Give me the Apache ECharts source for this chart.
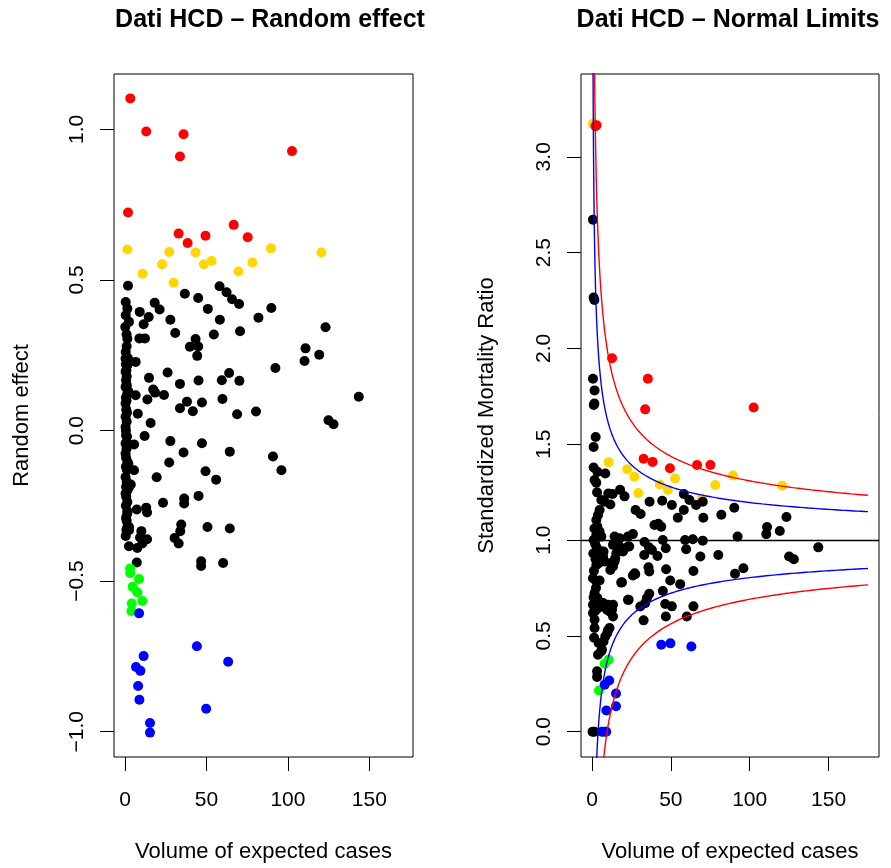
<!DOCTYPE html>
<html>
<head>
<meta charset="utf-8">
<title>Dati HCD</title>
<script src="https://cdn.jsdelivr.net/npm/echarts@6/dist/echarts.min.js"></script>
<style>
  html, body { margin: 0; padding: 0; background: #fff; }
  #chart { width: 891px; height: 868px; }
</style>
</head>
<body>
<div id="chart"></div>
<script>
// ---- Random effect panel: [expected cases, random effect] ----
const reBlack = [
  [1.8,0.481],[18.2,0.424],[21.2,0.402],[36.7,0.454],[44.9,0.440],[58.0,0.479],[62.3,0.459],[65.7,0.436],
  [70.0,0.420],[50.8,0.404],[89.8,0.407],[81.9,0.375],[58.2,0.368],[27.8,0.368],[9.0,0.394],[14.5,0.377],
  [11.4,0.353],[30.8,0.324],[54.5,0.319],[70.6,0.330],[123.1,0.343],[43.3,0.304],[39.8,0.278],[44.9,0.279],
  [44.3,0.248],[8.8,0.306],[12.2,0.306],[110.8,0.273],[119.2,0.252],[110.2,0.231],[92.3,0.208],[26.1,0.193],
  [14.7,0.175],[63.9,0.191],[59.4,0.167],[70.2,0.165],[45.1,0.166],[33.7,0.155],[17.3,0.136],[18.4,0.126],
  [23.9,0.118],[13.7,0.103],[59.8,0.105],[38.0,0.096],[47.2,0.093],[33.7,0.074],[41.6,0.064],[143.5,0.112],
  [80.4,0.063],[68.8,0.054],[124.9,0.034],[128.0,0.021],[7.8,0.056],[15.7,0.025],[12.0,-0.018],[27.8,-0.035],
  [47.2,-0.042],[5.5,-0.046],[35.9,-0.073],[64.3,-0.070],[90.8,-0.086],[96.0,-0.132],[27.1,-0.106],[49.4,-0.135],
  [55.9,-0.163],[19.4,-0.155],[5.5,-0.132],[3.5,-0.179],[23.3,-0.240],[36.3,-0.226],[36.3,-0.242],[45.1,-0.217],
  [13.0,-0.256],[13.5,-0.272],[7.2,-0.262],[1.4,-0.268],[34.5,-0.312],[33.9,-0.334],[30.4,-0.357],[32.9,-0.375],
  [50.6,-0.320],[64.3,-0.325],[2.4,-0.320],[2.4,-0.331],[10.0,-0.334],[13.5,-0.361],[9.2,-0.355],[10.6,-0.375],
  [2.4,-0.384],[7.5,-0.390],[7.2,-0.438],[46.7,-0.434],[46.7,-0.450],[60.2,-0.440],
  [0.4,0.427],[1.4,0.405],[0.4,0.383],[2.4,0.361],[0.1,0.344],[1.4,0.305],[1.0,0.280],[0.9,0.320],
  [0.4,0.261],[0.3,0.239],[1.8,0.240],[1.4,0.217],[0.5,0.220],[0.8,0.200],[0.3,0.195],[1.0,0.180],
  [0.6,0.167],[1.1,0.150],[0.3,0.145],[2.0,0.130],[1.4,0.123],[0.5,0.110],[0.9,0.100],[0.3,0.090],
  [0.7,0.070],[1.2,0.060],[0.3,0.046],[1.0,0.030],[0.3,0.012],[0.5,0.000],[0.6,-0.016],[1.2,-0.020],
  [0.3,-0.043],[0.8,-0.040],[0.9,-0.060],[0.3,-0.076],[0.6,-0.090],[1.4,-0.104],[2.0,-0.110],[0.5,-0.120],
  [1.1,-0.130],[0.3,-0.154],[1.0,-0.170],[0.6,-0.187],[2.2,-0.190],[1.3,-0.200],[0.3,-0.209],[0.7,-0.220],
  [1.4,-0.237],[0.5,-0.250],[1.4,-0.275],[0.6,-0.290],[1.0,-0.300],[1.4,-0.320],[0.8,-0.330],[0.4,-0.350],
  [6.5,0.228],[6.5,0.117]
];
const reGold = [
  [1.4,0.601],[10.8,0.521],[22.7,0.552],[27.1,0.593],[29.8,0.491],[43.3,0.591],
  [48.4,0.552],[53.1,0.563],[69.6,0.528],[78.2,0.558],[89.6,0.605],[120.6,0.591]
];
const reRed = [
  [3.2,1.103],[13.0,0.993],[35.9,0.984],[33.7,0.910],[102.5,0.928],[1.8,0.724],
  [66.7,0.683],[32.9,0.654],[38.4,0.623],[49.4,0.647],[75.3,0.642]
];
const reGreen = [
  [3.1,-0.458],[3.1,-0.473],[8.6,-0.493],[4.7,-0.519],[7.5,-0.537],[10.6,-0.566],[4.1,-0.574],[3.9,-0.599]
];
const reBlue = [
  [8.6,-0.607],[44.1,-0.716],[11.4,-0.749],[63.3,-0.768],[6.7,-0.785],[9.4,-0.798],
  [8.0,-0.848],[8.8,-0.894],[49.8,-0.924],[15.3,-0.971],[15.3,-1.003]
];

// ---- Normal limits panel: [expected cases, SMR] ----
const smrBlack = [
  [0.6,2.672],[1.0,2.266],[1.5,2.253],[0.6,1.842],[1.6,1.781],[1.5,1.712],[1.1,1.705],[2.3,1.538],
  [1.0,1.486],[1.0,1.379],[3.4,1.356],[8.4,1.347],[1.6,1.313],[2.7,1.299],[3.2,1.249],[5.9,1.209],
  [10.3,1.243],[13.0,1.240],[17.8,1.262],[20.6,1.228],[8.0,1.200],[11.6,1.186],[4.8,1.157],[3.8,1.131],
  [2.7,1.105],[3.4,1.070],[4.8,1.044],[2.7,1.027],[5.9,1.018],[14.3,1.019],[17.5,1.009],[22.8,1.018],
  [25.9,1.031],[36.5,1.200],[44.5,1.205],[50.6,1.183],[58.2,1.240],[61.8,1.209],[66.0,1.183],[70.2,1.200],
  [90.2,1.169],[27.6,1.157],[30.8,1.136],[58.2,1.157],[54.4,1.116],[70.6,1.116],[82.0,1.132],[123.3,1.120],
  [39.6,1.079],[42.0,1.085],[43.9,1.070],[111.0,1.068],[119.1,1.047],[110.5,1.031],[92.3,1.018],[44.9,1.000],
  [33.3,0.990],[59.0,1.000],[63.9,1.004],[70.2,0.997],
  [143.5,0.962],[125.0,0.914],[128.0,0.900],[96.0,0.853],[90.7,0.824],[80.1,0.922],[68.7,0.914],[64.3,0.839],
  [59.7,0.952],[46.8,0.957],[38.0,0.948],[41.5,0.917],[33.1,0.922],[36.1,0.962],[23.6,0.966],[47.0,0.848],
  [35.8,0.858],[36.3,0.836],[27.4,0.822],[25.9,0.815],[19.0,0.780],[49.6,0.789],[55.9,0.770],[44.9,0.734],
  [36.3,0.720],[34.8,0.697],[33.7,0.671],[30.6,0.653],[23.2,0.688],[46.4,0.666],[50.6,0.654],[64.3,0.654],
  [46.8,0.601],[60.1,0.601],[32.7,0.581],[11.6,0.844],[11.6,0.879],[14.7,0.905],[7.3,0.940],[4.2,0.879],
  [0.6,0.801],[4.8,0.789],[13.3,0.662],[12.7,0.636],[13.3,0.601],[7.3,0.654],[9.5,0.636],[10.1,0.529],
  [8.4,0.497],[7.3,0.471],[4.2,0.463],[5.7,0.419],[3.2,0.315],[3.2,0.286],[0.3,0.000],[1.5,0.000],
  [13.3,0.975],[17.5,0.966],[22.8,0.966],[15.4,0.931],[19.6,0.940],[5.9,0.940],[7.0,0.914],[8.0,0.888],
  [14.3,0.888],[13.3,0.862],[2.7,0.870],[27.0,0.827],[18.5,0.778],[2.7,0.784],[1.6,0.723],[3.4,0.697],
  [0.6,0.662],[3.8,0.645],[0.6,0.619],[1.6,0.584],[1.6,0.541],[7.0,0.671],[10.1,0.662],[11.1,0.627],
  [22.8,0.688],[11.1,0.541],[9.7,0.515],[6.3,0.428],[3.8,0.402],
  [1.0,1.000],[2.0,0.980],[3.0,0.960],[1.5,1.060],[0.8,0.930],[2.2,0.900],[1.2,0.840],[2.5,0.750],
  [1.0,0.700],[2.0,0.630],[1.3,0.490]
];
const smrGold = [
  [0.6,3.172],[10.5,1.406],[22.3,1.370],[26.8,1.330],[29.3,1.245],[43.0,1.290],
  [48.1,1.261],[52.7,1.321],[78.2,1.287],[89.4,1.337],[120.6,1.283],[69.6,1.217]
];
const smrRed = [
  [2.2,3.160],[2.9,3.165],[12.7,1.949],[35.4,1.842],[33.7,1.682],[102.5,1.692],
  [32.7,1.424],[38.4,1.408],[49.4,1.375],[66.6,1.392],[75.1,1.392]
];
const smrGreen = [[10.5,0.376],[8.0,0.355],[4.4,0.215],[6.5,0.000]];
const smrBlue = [
  [43.9,0.454],[49.7,0.461],[63.0,0.445],[10.9,0.267],[8.0,0.245],[15.2,0.199],
  [15.2,0.133],[9.1,0.111],[6.3,0.000],[8.4,0.000],[9.0,0.000]
];

// ---- Axis ticks ----
const xTicks = [0, 50, 100, 150];
const reYTicks = [-1, -0.5, 0, 0.5, 1];
const smrYTicks = [0, 0.5, 1, 1.5, 2, 2.5, 3];

// ---- Control limits: 1 ± z / sqrt(E) ----
const zInner = 1.96;   // 95%
const zOuter = 3.09;   // 99.8%
const limitE = [];
for (let k = 0; k <= 500; k++) limitE.push(0.3 * Math.pow(175 / 0.3, k / 500));
const limitCurve = (z, sign) => limitE.map(e => [e, 1 + sign * z / Math.sqrt(e)]);

const FONT = '"Liberation Sans", Arial, Helvetica, sans-serif';
const fmtY = v => (v < 0 ? '\u2212' : '') + Math.abs(v).toFixed(1);

function xAxisCfg(gridIndex, min, max) {
  return {
    type: 'value', gridIndex, min, max,
    name: 'Volume of expected cases', nameLocation: 'middle', nameGap: 84,
    nameTextStyle: { fontFamily: FONT, fontSize: 22, color: '#000' },
    axisLine: { show: false, onZero: false },
    axisTick: { show: true, inside: false, length: 14, customValues: xTicks,
                lineStyle: { color: '#000', width: 1 } },
    axisLabel: { customValues: xTicks, margin: 33, fontFamily: FONT, fontSize: 21, color: '#000' },
    splitLine: { show: false }
  };
}
function yAxisCfg(gridIndex, min, max, ticks, name, nameGap) {
  return {
    type: 'value', gridIndex, min, max,
    name, nameLocation: 'middle', nameGap,
    nameTextStyle: { fontFamily: FONT, fontSize: 22, color: '#000' },
    axisLine: { show: false, onZero: false },
    axisTick: { show: true, inside: false, length: 14, customValues: ticks,
                lineStyle: { color: '#000', width: 1 } },
    axisLabel: { customValues: ticks, rotate: 90, margin: 26, formatter: fmtY,
                 fontFamily: FONT, fontSize: 21, color: '#000' },
    splitLine: { show: false }
  };
}
function dots(data, color, gi) {
  return { type: 'scatter', xAxisIndex: gi, yAxisIndex: gi, data, symbol: 'circle', symbolSize: 10,
           itemStyle: { color, opacity: 1 }, silent: true, z: 3 };
}
function curve(data, color) {
  return { type: 'line', xAxisIndex: 1, yAxisIndex: 1, data, showSymbol: false, symbol: 'none',
           clip: true, silent: true, z: 4, lineStyle: { color, width: 1.4 } };
}

const chart = echarts.init(document.getElementById('chart'), null, { renderer: 'canvas' });
chart.setOption({
  animation: false,
  backgroundColor: '#fff',
  graphic: [
    { type: 'text', x: 270, y: 20, style: { text: 'Dati HCD \u2013 Random effect', font: 'bold 25px ' + FONT,
      fill: '#000', align: 'center', verticalAlign: 'middle', textAlign: 'center', textVerticalAlign: 'middle' } },
    { type: 'text', x: 728, y: 20, style: { text: 'Dati HCD \u2013 Normal Limits', font: 'bold 25px ' + FONT,
      fill: '#000', align: 'center', verticalAlign: 'middle', textAlign: 'center', textVerticalAlign: 'middle' } }
  ],
  grid: [
    { left: 114, top: 74, width: 299, height: 683, show: true, borderColor: '#000', borderWidth: 1, backgroundColor: 'transparent' },
    { left: 581, top: 74, width: 298, height: 683, show: true, borderColor: '#000', borderWidth: 1, backgroundColor: 'transparent' }
  ],
  xAxis: [ xAxisCfg(0, -6.8, 176.8), xAxisCfg(1, -7, 182) ],
  yAxis: [
    yAxisCfg(0, -1.084, 1.184, reYTicks, 'Random effect', 81),
    yAxisCfg(1, -0.132, 3.432, smrYTicks, 'Standardized Mortality Ratio', 83)
  ],
  series: [
    dots(reGold, '#FFD700', 0), dots(reBlack, '#000000', 0), dots(reRed, '#FF0000', 0),
    dots(reGreen, '#00FF00', 0), dots(reBlue, '#0000FF', 0),
    dots(smrGold, '#FFD700', 1), dots(smrBlack, '#000000', 1), dots(smrRed, '#FF0000', 1),
    dots(smrGreen, '#00FF00', 1), dots(smrBlue, '#0000FF', 1),
    Object.assign(curve(limitCurve(zOuter, 1), '#FF0000'), {
      markLine: { silent: true, symbol: 'none', label: { show: false },
                  lineStyle: { color: '#000', width: 1.3, type: 'solid' }, data: [{ yAxis: 1 }] }
    }),
    curve(limitCurve(zOuter, -1), '#FF0000'),
    curve(limitCurve(zInner, 1), '#0000FF'),
    curve(limitCurve(zInner, -1), '#0000FF')
  ]
});
</script>
</body>
</html>
